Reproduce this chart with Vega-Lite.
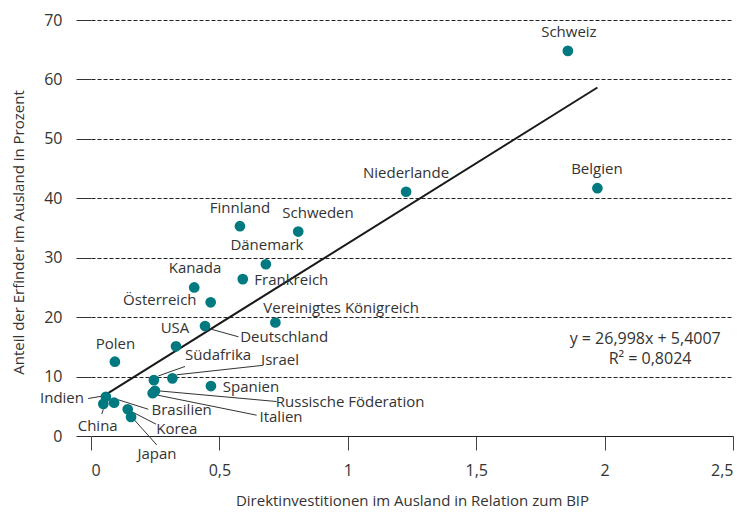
{
  "$schema": "https://vega.github.io/schema/vega-lite/v6.json",
  "autosize": {"type": "none"},
  "width": 642,
  "height": 416,
  "padding": {"left": 91, "top": 20, "right": 11, "bottom": 79},
  "background": "white",
  "config": {
    "view": {"stroke": null},
    "font": "Open Sans",
    "axis": {"labelFont": "Open Sans", "titleFont": "Open Sans", "titleFontWeight": "normal"}
  },
  "datasets": {
    "pts": [
      {"land": "Schweiz", "x": 1.857, "y": 64.8, "lx": 1.861, "ly": 68.0},
      {"land": "Belgien", "x": 1.972, "y": 41.7, "lx": 1.970, "ly": 44.9},
      {"land": "Niederlande", "x": 1.227, "y": 41.1, "lx": 1.227, "ly": 44.3},
      {"land": "Schweden", "x": 0.807, "y": 34.4, "lx": 0.884, "ly": 37.5},
      {"land": "Finnland", "x": 0.580, "y": 35.3, "lx": 0.580, "ly": 38.4},
      {"land": "Dänemark", "x": 0.681, "y": 28.9, "lx": 0.685, "ly": 32.1},
      {"land": "Frankreich", "x": 0.591, "y": 26.4, "lx": 0.780, "ly": 26.2},
      {"land": "Kanada", "x": 0.402, "y": 25.0, "lx": 0.405, "ly": 28.2},
      {"land": "Österreich", "x": 0.466, "y": 22.5, "lx": 0.268, "ly": 22.9},
      {"land": "Vereinigtes Königreich", "x": 0.718, "y": 19.1, "lx": 0.974, "ly": 21.5},
      {"land": "Deutschland", "x": 0.444, "y": 18.5, "lx": 0.752, "ly": 16.7},
      {"land": "USA", "x": 0.331, "y": 15.1, "lx": 0.327, "ly": 18.1},
      {"land": "Polen", "x": 0.093, "y": 12.5, "lx": 0.095, "ly": 15.5},
      {"land": "Israel", "x": 0.317, "y": 9.7, "lx": 0.736, "ly": 12.8},
      {"land": "Südafrika", "x": 0.245, "y": 9.4, "lx": 0.495, "ly": 13.6},
      {"land": "Spanien", "x": 0.467, "y": 8.4, "lx": 0.623, "ly": 8.3},
      {"land": "Russische Föderation", "x": 0.249, "y": 7.6, "lx": 1.009, "ly": 5.8},
      {"land": "Italien", "x": 0.240, "y": 7.2, "lx": 0.740, "ly": 3.2},
      {"land": "Indien", "x": 0.058, "y": 6.6, "lx": -0.113, "ly": 6.4},
      {"land": "Brasilien", "x": 0.090, "y": 5.6, "lx": 0.353, "ly": 4.3},
      {"land": "China", "x": 0.048, "y": 5.4, "lx": 0.026, "ly": 1.7},
      {"land": "Korea", "x": 0.143, "y": 4.5, "lx": 0.334, "ly": 1.1},
      {"land": "Japan", "x": 0.156, "y": 3.2, "lx": 0.257, "ly": -3.0}
    ],
    "leaders": [
      {"land": "Deutschland", "x": 0.457, "y": 18.1, "x2": 0.574, "y2": 16.7},
      {"land": "Südafrika", "x": 0.262, "y": 10.1, "x2": 0.366, "y2": 11.7},
      {"land": "Israel", "x": 0.334, "y": 10.3, "x2": 0.671, "y2": 11.9},
      {"land": "Russische Föderation", "x": 0.262, "y": 7.6, "x2": 0.723, "y2": 5.8},
      {"land": "Italien", "x": 0.256, "y": 6.9, "x2": 0.645, "y2": 3.5},
      {"land": "Indien", "x": -0.011, "y": 6.3, "x2": 0.042, "y2": 6.7},
      {"land": "China", "x": 0.048, "y": 4.5, "x2": 0.042, "y2": 3.7},
      {"land": "Brasilien", "x": 0.106, "y": 6.1, "x2": 0.223, "y2": 4.5},
      {"land": "Korea", "x": 0.158, "y": 4.1, "x2": 0.253, "y2": 2.0},
      {"land": "Japan", "x": 0.167, "y": 2.8, "x2": 0.256, "y2": -1.5}
    ],
    "fit": [
      {"x": 0.048, "y": 6.70},
      {"x": 1.972, "y": 58.64}
    ],
    "notes": [
      {"txt": "y = 26,998x + 5,4007", "x": 2.158, "y": 16.4},
      {"txt": "R² = 0,8024", "x": 2.177, "y": 12.9}
    ]
  },
  "layer": [
    {
      "data": {"name": "fit"},
      "mark": {"type": "line", "color": "#1a1a1a", "strokeWidth": 2, "clip": false},
      "encoding": {
        "x": {
          "field": "x", "type": "quantitative",
          "scale": {"domain": [0, 2.5], "nice": false, "zero": false},
          "axis": {
            "title": "Direktinvestitionen im Ausland in Relation zum BIP",
            "values": [0, 0.5, 1, 1.5, 2, 2.5],
            "labelExpr": "replace(toString(datum.value), '.', ',')",
            "grid": false,
            "domainColor": "#222",
            "domainWidth": 1,
            "tickColor": "#444",
            "tickSize": 14,
            "labelPadding": 12,
            "labelFontSize": 16,
            "labelColor": "#333",
            "titleFontSize": 15,
            "titleColor": "#333",
            "titleX": 321,
            "titleY": 64,
            "titleBaseline": "middle",
            "titleAnchor": "middle",
            "titleAlign": "center"
          }
        },
        "y": {
          "field": "y", "type": "quantitative",
          "scale": {"domain": [0, 70], "nice": false, "zero": false},
          "axis": {
            "title": "Anteil der Erfinder im Ausland in Prozent",
            "values": [0, 10, 20, 30, 40, 50, 60, 70],
            "domain": false,
            "grid": true,
            "gridColor": "#222",
            "gridDash": [4, 2],
            "gridWidth": 1,
            "gridOpacity": {"condition": {"test": "datum.value === 0", "value": 0}, "value": 1},
            "tickColor": "#333",
            "tickSize": 15,
            "labelPadding": 14,
            "labelFontSize": 16,
            "labelColor": "#333",
            "titleFontSize": 15,
            "titleColor": "#333",
            "titleAngle": -90,
            "titleX": -73,
            "titleY": 212,
            "titleBaseline": "middle",
            "titleAlign": "center"
          }
        }
      }
    },
    {
      "data": {"name": "leaders"},
      "mark": {"type": "rule", "color": "#333", "strokeWidth": 1, "clip": false},
      "encoding": {
        "x": {"field": "x", "type": "quantitative", "title": "Direktinvestitionen im Ausland in Relation zum BIP"},
        "y": {"field": "y", "type": "quantitative", "title": "Anteil der Erfinder im Ausland in Prozent"},
        "x2": {"field": "x2"},
        "y2": {"field": "y2"}
      }
    },
    {
      "data": {"name": "pts"},
      "mark": {"type": "circle", "color": "#007a80", "size": 115, "opacity": 1},
      "encoding": {
        "x": {"field": "x", "type": "quantitative", "title": "Direktinvestitionen im Ausland in Relation zum BIP"},
        "y": {"field": "y", "type": "quantitative", "title": "Anteil der Erfinder im Ausland in Prozent"}
      }
    },
    {
      "data": {"name": "pts"},
      "mark": {"type": "text", "fontSize": 15, "color": "#333", "baseline": "middle", "align": "center", "clip": false},
      "encoding": {
        "x": {"field": "lx", "type": "quantitative", "title": "Direktinvestitionen im Ausland in Relation zum BIP"},
        "y": {"field": "ly", "type": "quantitative", "title": "Anteil der Erfinder im Ausland in Prozent"},
        "text": {"field": "land"}
      }
    },
    {
      "data": {"name": "notes"},
      "mark": {"type": "text", "fontSize": 16, "color": "#333", "baseline": "middle", "align": "center"},
      "encoding": {
        "x": {"field": "x", "type": "quantitative", "title": "Direktinvestitionen im Ausland in Relation zum BIP"},
        "y": {"field": "y", "type": "quantitative", "title": "Anteil der Erfinder im Ausland in Prozent"},
        "text": {"field": "txt"}
      }
    }
  ]
}
